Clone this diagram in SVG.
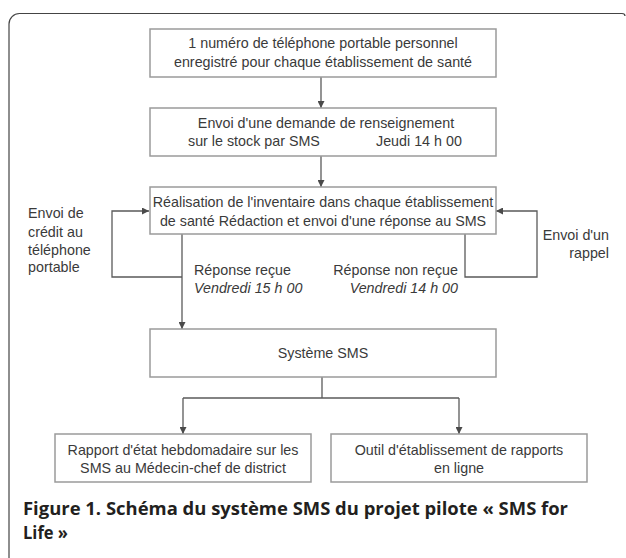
<svg xmlns="http://www.w3.org/2000/svg" width="626" height="558" viewBox="0 0 626 558">
<style>
.box{fill:#fff;stroke:#9a9a9a;stroke-width:1.5}
.t{font-family:"Liberation Sans",Arial,sans-serif;font-size:14.3px;fill:#3a3a3a}
.c{text-anchor:middle}
.r{text-anchor:end}
.i{font-style:italic}
.ln{fill:none;stroke:#5a5a5a;stroke-width:1.3}
.cap{font-family:"Open Sans","Noto Sans",sans-serif;font-weight:700;font-size:18.5px;fill:#231f20}
</style>
<defs>
<marker id="ah" viewBox="0 0 10 10" refX="10" refY="5" markerWidth="7" markerHeight="7" markerUnits="userSpaceOnUse" orient="auto">
<path d="M0,0 L10,5 L0,10 z" fill="#4a4a4a"/>
</marker>
</defs>
<rect width="626" height="558" fill="#fff"/>
<path d="M9,558 V24 A10.5,10.5 0 0 1 19.5,13.5 H622 Q625,13.5 625,16" fill="none" stroke="#444" stroke-width="1.2"/>

<g id="connectors">
<line class="ln" x1="321" y1="77" x2="321" y2="108" marker-end="url(#ah)"/>
<line class="ln" x1="321" y1="156" x2="321" y2="187" marker-end="url(#ah)"/>
<path class="ln" d="M182,234 V329" marker-end="url(#ah)"/>
<path class="ln" d="M182,277 H112 V211 H149" marker-end="url(#ah)"/>
<path class="ln" d="M465,234 V277 H537 V211 H496" marker-end="url(#ah)"/>
<path class="ln" d="M322,377 V398"/>
<path class="ln" d="M183,398 H459"/>
<path class="ln" d="M183,398 V434" marker-end="url(#ah)"/>
<path class="ln" d="M459,398 V434" marker-end="url(#ah)"/>
</g>

<g id="n1">
<rect class="box" x="150" y="29" width="346" height="48"/>
<text class="t c" x="323" y="48">1 numéro de téléphone portable personnel</text>
<text class="t c" x="323" y="66.5">enregistré pour chaque établissement de santé</text>
</g>
<g id="n2">
<rect class="box" x="150" y="108" width="346" height="48"/>
<text class="t c" x="326" y="128">Envoi d'une demande de renseignement</text>
<text class="t" x="188" y="146">sur le stock par SMS</text>
<text class="t" x="376" y="146">Jeudi 14 h 00</text>
</g>
<g id="n3">
<rect class="box" x="150" y="187" width="346" height="47"/>
<text class="t c" x="323" y="207">Réalisation de l'inventaire dans chaque établissement</text>
<text class="t c" x="323" y="225.5">de santé Rédaction et envoi d'une réponse au SMS</text>
</g>
<g id="lbl-left">
<text class="t" x="28" y="218">Envoi de</text>
<text class="t" x="28" y="236.5">crédit au</text>
<text class="t" x="28" y="254.5">téléphone</text>
<text class="t" x="28" y="272">portable</text>
</g>
<g id="lbl-right">
<text class="t r" x="609" y="240">Envoi d'un</text>
<text class="t r" x="609" y="257.5">rappel</text>
</g>
<g id="lbl-recue">
<text class="t" x="194" y="274.5">Réponse reçue</text>
<text class="t i" x="194" y="293">Vendredi 15 h 00</text>
</g>
<g id="lbl-nonrecue">
<text class="t r" x="458" y="274.5">Réponse non reçue</text>
<text class="t i r" x="458" y="293">Vendredi 14 h 00</text>
</g>
<g id="n4">
<rect class="box" x="150" y="329" width="346" height="48"/>
<text class="t c" x="323" y="358">Système SMS</text>
</g>
<g id="n5">
<rect class="box" x="55" y="434" width="256" height="48"/>
<text class="t c" x="183" y="455">Rapport d'état hebdomadaire sur les</text>
<text class="t c" x="183" y="473">SMS au Médecin-chef de district</text>
</g>
<g id="n6">
<rect class="box" x="331" y="434" width="256" height="48"/>
<text class="t c" x="459" y="455">Outil d'établissement de rapports</text>
<text class="t c" x="459" y="473">en ligne</text>
</g>
<g id="caption">
<text class="cap" x="23" y="515" textLength="545" lengthAdjust="spacingAndGlyphs">Figure 1. Schéma du système SMS du projet pilote « SMS for</text>
<text class="cap" x="23" y="539" textLength="45" lengthAdjust="spacingAndGlyphs">Life »</text>
</g>
</svg>
